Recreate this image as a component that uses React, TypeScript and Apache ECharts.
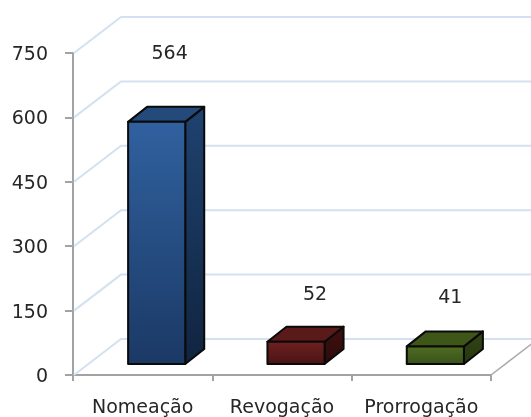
import React, { useEffect, useRef } from "react";
import * as echarts from "echarts";

const categories = ["Nomeação", "Revogação", "Prorrogação"];
const values = [564, 52, 41];
const yTicks = [0, 150, 300, 450, 600, 750];

// styling, separate from the data
const faceColors = [
  { front: ["#30619f", "#1b3965"], top: "#244a7c", side: ["#1f4270", "#10243f"] },
  { front: ["#6e2020", "#4a1414"], top: "#5a1a1a", side: ["#3f1010", "#2c0b0b"] },
  { front: ["#4f6c22", "#39521a"], top: "#3f5619", side: ["#334613", "#263610"] },
];
const labelShift = [
  [13, -70],
  [19, -49],
  [15, -50],
];
const FONT = "DejaVu Sans";
const FONT_SIZE = 19;
const WALL_DX = 47;
const WALL_DY = 36;
const BAR_DX = 14;
const BAR_DY = 11;
const DEPTH_DX = 19;
const DEPTH_DY = 15;

const grad = (c: string[]) =>
  new echarts.graphic.LinearGradient(0, 0, 0, 1, [
    { offset: 0, color: c[0] },
    { offset: 1, color: c[1] },
  ]);

export default function App() {
  const ref = useRef<HTMLDivElement>(null);
  useEffect(() => {
    const chart = echarts.init(ref.current!, null, { renderer: "svg" });
    chart.setOption({
      animation: false,
      backgroundColor: "#ffffff",
      grid: { left: 73, top: 53, width: 418, height: 322, containLabel: false },
      xAxis: {
        type: "category",
        data: categories,
        axisLine: { lineStyle: { color: "#a3a3a3", width: 2 } },
        axisTick: { show: true, length: 6, lineStyle: { color: "#a3a3a3", width: 2 } },
        axisLabel: {
          color: "#262626",
          fontFamily: FONT,
          fontSize: FONT_SIZE,
          margin: 21,
          interval: 0,
          hideOverlap: false,
        },
      },
      yAxis: {
        type: "value",
        min: 0,
        max: 750,
        interval: 150,
        axisLine: { show: true, lineStyle: { color: "#a3a3a3", width: 2 } },
        axisTick: { show: true, length: 8, lineStyle: { color: "#a3a3a3", width: 2 } },
        splitLine: { show: false },
        axisLabel: {
          color: "#262626",
          fontFamily: FONT,
          fontSize: FONT_SIZE,
          margin: 25,
          padding: [3, 0, 0, 0],
        },
      },
      series: [
        {
          type: "custom",
          z: 1,
          silent: true,
          data: yTicks.map((v) => [0, v]),
          encode: { x: 0, y: 1 },
          renderItem: (params: any, api: any) => {
            const y = api.coord([0, api.value(1)])[1];
            const cs = params.coordSys;
            const x0 = cs.x + 1;
            return {
              type: "polyline",
              shape: {
                points: [
                  [x0, y],
                  [x0 + WALL_DX, y - WALL_DY],
                  [531, y - WALL_DY],
                ],
              },
              style: { fill: "none", stroke: "#d3e1f2", lineWidth: 2 },
            };
          },
        },
        {
          type: "custom",
          z: 2,
          silent: true,
          data: [[2, 0]],
          encode: { x: 0, y: 1 },
          renderItem: (params: any, api: any) => {
            const y = api.coord([0, 0])[1];
            const cs = params.coordSys;
            const x = cs.x + cs.width;
            return {
              type: "line",
              shape: { x1: x, y1: y, x2: x + WALL_DX, y2: y - WALL_DY },
              style: { stroke: "#a9a9a9", lineWidth: 1.5 },
            };
          },
        },
        {
          type: "custom",
          z: 3,
          data: values.map((v, i) => [i, v]),
          encode: { x: 0, y: 1 },
          renderItem: (_: any, api: any) => {
            const i = api.value(0);
            const [cx, yTopRaw] = api.coord([i, api.value(1)]);
            const yBaseRaw = api.coord([i, 0])[1];
            const w = api.size([1, 0])[0] * 0.41;
            const x1 = cx + BAR_DX - w / 2;
            const x2 = x1 + w;
            const yT = yTopRaw - BAR_DY;
            const yB = yBaseRaw - BAR_DY;
            const c = faceColors[i];
            const edge = { stroke: "#0a0a0a", lineWidth: 2, lineJoin: "round" };
            return {
              type: "group",
              children: [
                {
                  type: "polygon",
                  shape: {
                    points: [
                      [x2, yT],
                      [x2 + DEPTH_DX, yT - DEPTH_DY],
                      [x2 + DEPTH_DX, yB - DEPTH_DY],
                      [x2, yB],
                    ],
                  },
                  style: { fill: grad(c.side), ...edge },
                },
                {
                  type: "polygon",
                  shape: {
                    points: [
                      [x1, yT],
                      [x1 + DEPTH_DX, yT - DEPTH_DY],
                      [x2 + DEPTH_DX, yT - DEPTH_DY],
                      [x2, yT],
                    ],
                  },
                  style: { fill: c.top, ...edge },
                },
                {
                  type: "rect",
                  shape: { x: x1, y: yT, width: w, height: yB - yT },
                  style: { fill: grad(c.front), ...edge },
                },
                {
                  type: "text",
                  style: {
                    x: cx + BAR_DX + labelShift[i][0],
                    y: yT + labelShift[i][1],
                    text: String(api.value(1)),
                    fill: "#262626",
                    font: `${FONT_SIZE}px "${FONT}"`,
                    align: "center",
                    verticalAlign: "middle",
                  },
                },
              ],
            };
          },
        },
      ],
    });
    return () => chart.dispose();
  }, []);
  return (
    <div
      ref={ref}
      style={{ position: "fixed", left: 0, top: 0, width: 531, height: 417, filter: "blur(0.6px)" }}
    />
  );
}
